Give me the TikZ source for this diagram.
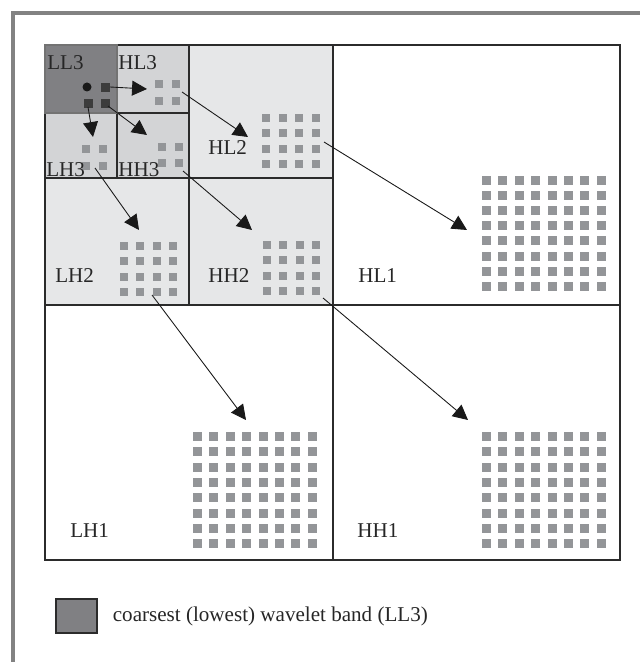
\documentclass[tikz,border=0pt]{standalone}
\usepackage{fontspec}
\setmainfont{Liberation Serif}
\usetikzlibrary{arrows.meta,positioning}
\definecolor{coarse}{HTML}{808083}
\definecolor{band3}{HTML}{D3D4D6}
\definecolor{band2}{HTML}{E6E7E8}
\definecolor{coef}{HTML}{939598}
\definecolor{parent}{HTML}{3C3C3C}
\definecolor{frame}{HTML}{828282}
\definecolor{edge}{HTML}{2B2B2B}
\tikzset{
  bandlabel/.style={anchor=base west, inner sep=0pt, font=\fontsize{12}{14}\selectfont, text=black!85},
  child/.style={-{Triangle[length=8.5pt,width=8.5pt]}, line width=0.5pt, draw=black!90},
  bandedge/.style={draw=edge, line width=0.8pt},
  keybox/.style={draw=edge, line width=0.6pt, fill=coarse, minimum width=0.82cm, minimum height=0.68cm, inner sep=0pt},
}
% grid of coefficients: x0, y0, n, dx, dy, size
\newcommand{\coefgrid}[6]{%
  \foreach \i in {1,...,#3}
    \foreach \j in {1,...,#3}
      \fill[coef] ({#1+(\i-1)*#4},{#2+(\j-1)*#5}) rectangle ++(#6,#6);}
\begin{document}
\begin{tikzpicture}[x=0.02cm,y=-0.02cm]
  \useasboundingbox (0,0) rectangle (640,662);
  % outer frame
  \draw[frame, line width=2.3pt] (13,662) -- (13,13) -- (640,13);
  % level 1
  \draw[bandedge] (45,45) rectangle (620,560);
  \draw[bandedge] (333,45) -- (333,560);
  \draw[bandedge] (45,305) -- (620,305);
  % level 2
  \draw[bandedge, fill=band2] (45,45) rectangle (333,305);
  \draw[bandedge] (189,45) -- (189,305);
  \draw[bandedge] (45,178) -- (333,178);
  % level 3
  \draw[bandedge, fill=band3] (45,45) rectangle (189,178);
  \draw[bandedge] (117,45) -- (117,178);
  \draw[bandedge] (45,113) -- (189,113);
  \draw[draw=black!55, line width=0.8pt, fill=coarse] (45,45) rectangle (117,113);

  % parents in LL3
  \fill[black!90] (87,87) circle (4.5);
  \fill[parent] (101,83) rectangle ++(9,9);
  \fill[parent] (84,99) rectangle ++(9,9);
  \fill[parent] (101,99) rectangle ++(9,9);

  % children
  \coefgrid{155}{80}{2}{17}{17}{8}
  \coefgrid{82}{145}{2}{17}{17}{8}
  \coefgrid{158}{143}{2}{17}{16}{8}
  \coefgrid{262}{114}{4}{16.5}{15.3}{8}
  \coefgrid{120}{242}{4}{16.3}{15.3}{8}
  \coefgrid{263}{241}{4}{16.3}{15.3}{8}
  \coefgrid{482}{176}{8}{16.4}{15.1}{9}
  \coefgrid{193}{432}{8}{16.4}{15.3}{9}
  \coefgrid{482}{432}{8}{16.4}{15.3}{9}

  % labels
  \node[bandlabel] (ll3) at (47,70) {LL3};
  \node[bandlabel] (hl3) at (118,70) {HL3};
  \node[bandlabel] (lh3) at (46,176) {LH3};
  \node[bandlabel] (hh3) at (118,176) {HH3};
  \node[bandlabel] (hl2) at (208,155) {HL2};
  \node[bandlabel] (lh2) at (55,282) {LH2};
  \node[bandlabel] (hh2) at (208,282) {HH2};
  \node[bandlabel] (hl1) at (358,282) {HL1};
  \node[bandlabel] (lh1) at (70,537) {LH1};
  \node[bandlabel] (hh1) at (357,537) {HH1};

  % arrow ends
  \coordinate (pa) at (110,87);
  \coordinate (pb) at (88,107);
  \coordinate (pc) at (108,106);
  \coordinate (ta) at (147,89);
  \coordinate (tb) at (93,137);
  \coordinate (tc) at (147,135);
  \coordinate (hl3s) at (182,92);
  \coordinate (lh3s) at (95,168);
  \coordinate (hh3s) at (183,171);
  \coordinate (hl2t) at (248,137);
  \coordinate (lh2t) at (139,230);
  \coordinate (hh2t) at (252,230);
  \coordinate (hl2s) at (324,142);
  \coordinate (lh2s) at (152,295);
  \coordinate (hh2s) at (323,298);
  \coordinate (hl1t) at (467,230);
  \coordinate (lh1t) at (246,420);
  \coordinate (hh1t) at (468,420);

  \draw[child] (pa) -- (ta);
  \draw[child] (pb) -- (tb);
  \draw[child] (pc) -- (tc);
  \draw[child] (hl3s) -- (hl2t);
  \draw[child] (lh3s) -- (lh2t);
  \draw[child] (hh3s) -- (hh2t);
  \draw[child] (hl2s) -- (hl1t);
  \draw[child] (lh2s) -- (lh1t);
  \draw[child] (hh2s) -- (hh1t);

  % legend
  \node[keybox] (key) at (76.5,616) {};
  \node[bandlabel, anchor=west, right=0.3cm of key] (keytext) {coarsest (lowest) wavelet band (LL3)};
\end{tikzpicture}
\end{document}
